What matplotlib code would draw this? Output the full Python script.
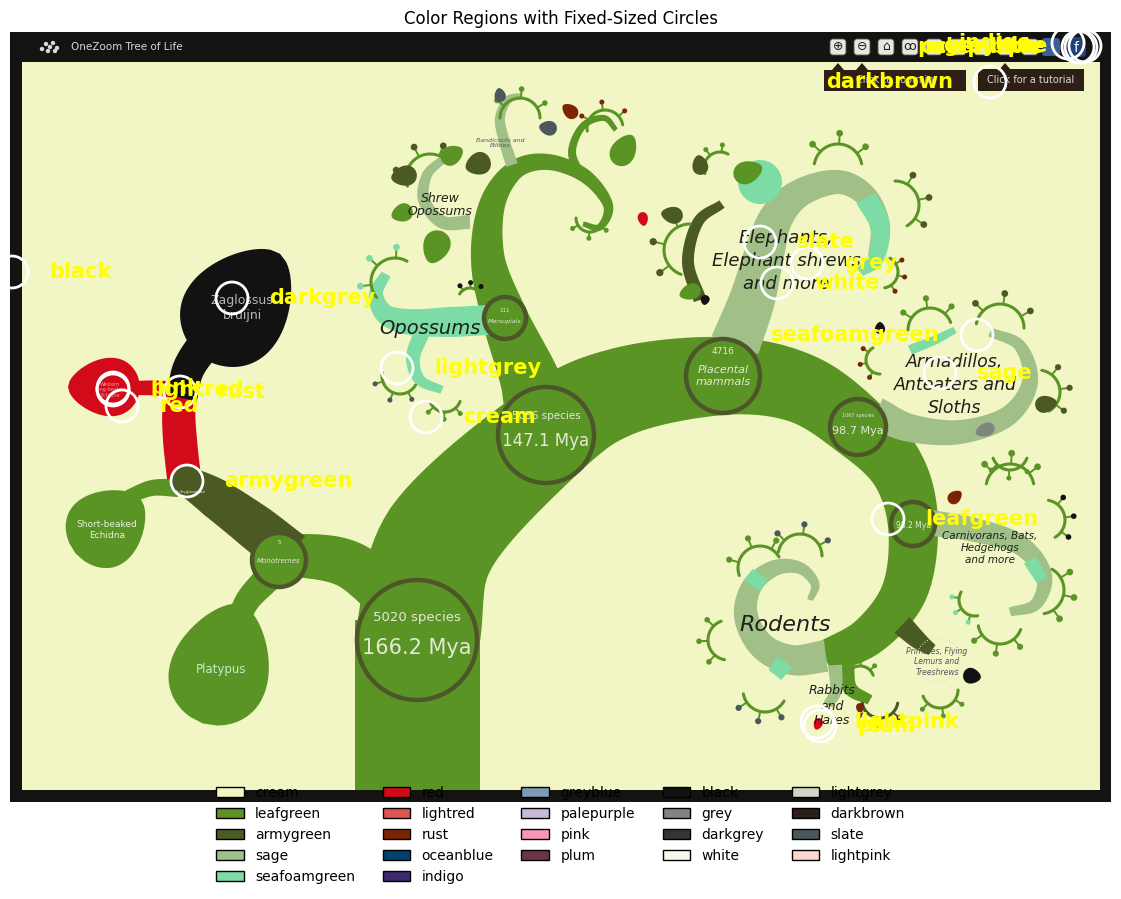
import numpy as np
import matplotlib
matplotlib.use('Agg')
import matplotlib.pyplot as plt
from matplotlib.patches import Rectangle, Circle, Polygon, Patch, FancyBboxPatch

# ---------------- legend colours ----------------
color_names = ['cream', 'leafgreen', 'armygreen', 'sage', 'seafoamgreen',
               'red', 'lightred', 'rust', 'oceanblue', 'indigo',
               'greyblue', 'palepurple', 'pink', 'plum',
               'black', 'grey', 'darkgrey', 'white',
               'lightgrey', 'darkbrown', 'slate', 'lightpink']
color_hex = ['#f3f6c4', '#5b9325', '#4c5a26', '#a0c08a', '#7fdca8',
             '#d2091a', '#e05454', '#7b2504', '#01436e', '#3d2a6d',
             '#7b9bb6', '#c9b8d6', '#fa96ba', '#6b3546',
             '#121311', '#818580', '#353632', '#f4fbec',
             '#d2d6c8', '#2e1f16', '#4a585e', '#fdd8d0']

# ---------------- sampled circles (screen pixel positions) ----------------
circle_labels = ['black', 'darkgrey', 'pink', 'lightred', 'red', 'rust', 'armygreen',
                 'lightgrey', 'cream', 'slate', 'grey', 'white', 'seafoamgreen', 'sage',
                 'leafgreen', 'plum', 'lightpink', 'darkbrown',
                 'indigo', 'oceanblue', 'palepurple', 'greyblue']
circle_x = [12, 232, 113, 113, 122, 180, 187,
            397, 426, 760, 807, 777, 977, 940,
            888, 820, 817, 990,
            1068, 1078, 1081, 1085]
circle_y = [272, 298, 388, 390, 406, 392, 481,
            368, 417, 242, 263, 283, 335, 373,
            519, 726, 722, 82,
            43, 47, 47, 46]

DARK = '#131411'
CREAM = '#f2f6c4'
LEAF = '#5a9424'
ARMY = '#4b5a23'
SAGE = '#a0c088'
SEAFOAM = '#7ddba5'
RED = '#d20a19'
RUST = '#7b2504'
SLATE = '#4a585e'
BLACK = '#111211'
NODE_EDGE = '#4d5628'

fig = plt.figure(figsize=(11.21, 8.99), dpi=100)
ax = fig.add_axes([10 / 1121, 97 / 899, 1101 / 1121, 770 / 899])
ax.set_xlim(10, 1111)
ax.set_ylim(802, 32)
ax.axis('off')
ax.set_title('Color Regions with Fixed-Sized Circles', fontsize=12)


def smooth(pts, n=16):
    p = np.asarray(pts, float)
    p = np.vstack([2 * p[0] - p[1], p, 2 * p[-1] - p[-2]])
    t = np.linspace(0, 1, n, endpoint=False)[:, None]
    seg = []
    for i in range(1, len(p) - 2):
        p0, p1, p2, p3 = p[i - 1], p[i], p[i + 1], p[i + 2]
        seg.append(0.5 * (2 * p1 + (p2 - p0) * t + (2 * p0 - 5 * p1 + 4 * p2 - p3) * t ** 2
                          + (3 * p1 - p0 - 3 * p2 + p3) * t ** 3))
    seg.append(p[-2][None])
    return np.vstack(seg)


def ribbon(pts, widths, color, z=2):
    c = smooth(pts)
    w = np.interp(np.linspace(0, 1, len(c)), np.linspace(0, 1, len(widths)), widths) / 2
    d = np.gradient(c, axis=0)
    d /= np.hypot(d[:, 0], d[:, 1])[:, None]
    nrm = np.column_stack([-d[:, 1], d[:, 0]])
    poly = np.vstack([c + nrm * w[:, None], (c - nrm * w[:, None])[::-1]])
    ax.add_patch(Polygon(poly, closed=True, fc=color, ec='none', zorder=z))


def leaf(x, y, L, W, ang, color, z=3):
    s = np.linspace(-1, 1, 50)
    hw = W / 2 * (1 - s ** 2) ** 0.55 * (1.1 - 0.25 * s)
    px = np.concatenate([s * L / 2, (s * L / 2)[::-1]])
    py = np.concatenate([hw, -hw[::-1]])
    a = np.radians(ang)
    rx = x + px * np.cos(a) - py * np.sin(a)
    ry = y - (px * np.sin(a) + py * np.cos(a))
    ax.add_patch(Polygon(np.column_stack([rx, ry]), closed=True, fc=color, ec='none', zorder=z))


def twig(x, y, r, a0, a1, col=LEAF, tip=LEAF, z=2.5):
    a = np.radians(np.linspace(a0, a1, 30))
    xs = x + r * np.cos(a)
    ys = y - r * np.sin(a)
    ax.plot(xs, ys, color=col, lw=2.2, solid_capstyle='round', zorder=z)
    for k in (5, 14, 23):
        x1 = xs[k] + 0.45 * r * np.cos(a[k])
        y1 = ys[k] - 0.45 * r * np.sin(a[k])
        ax.plot([xs[k], x1], [ys[k], y1], color=col, lw=1.4, zorder=z)
        ax.add_patch(Circle((x1, y1), max(2.5, r * 0.14), fc=tip, ec='none', zorder=z))


def node(x, y, r, z=4):
    ax.add_patch(Circle((x, y), r, fc=LEAF, ec=NODE_EDGE, lw=3.2, zorder=z))


# ---------------- screenshot frame ----------------
ax.add_patch(Rectangle((10, 32), 1101, 770, fc=DARK, ec='none', zorder=0))
ax.add_patch(Rectangle((22, 62), 1078, 728, fc=CREAM, ec='none', zorder=0.5))

# header
ax.text(71, 47, 'OneZoom Tree of Life', color='#d8d8d8', fontsize=7.5, va='center', zorder=1)
for dx, dy in [(-8, 2), (-4, -3), (0, 0), (3, -4), (7, 1), (-2, 4), (5, 4)]:
    ax.add_patch(Circle((50 + dx, 47 + dy), 2.2, fc='#d8d8d8', ec='none', zorder=1))
icons = ['⊕', '⊖', '⌂', 'ꝏ', '', '', '', '', '']
for i, g in enumerate(icons):
    xi = 838 + 24 * i
    ax.add_patch(FancyBboxPatch((xi - 8, 39), 16, 16, boxstyle='round,pad=0,rounding_size=3',
                                fc='#e6e8e0', ec='#555555', lw=0.6, zorder=1))
    ax.text(xi, 47, g, fontsize=9, ha='center', va='center', color='#222222', zorder=1.1)
ax.add_patch(FancyBboxPatch((1042, 38), 18, 18, boxstyle='round,pad=0,rounding_size=3',
                            fc='#3b5d9a', ec='none', zorder=1))
ax.add_patch(FancyBboxPatch((1066, 37), 20, 20, boxstyle='round,pad=0,rounding_size=4',
                            fc='#21417c', ec='none', zorder=1))
ax.text(1076, 48, 'f', color='white', fontsize=10, ha='center', va='center', zorder=1.1)
ax.add_patch(Rectangle((824, 70), 142, 21, fc='#2e1f16', ec='none', zorder=1))
ax.add_patch(Rectangle((978, 69), 106, 22, fc='#2e1f16', ec='none', zorder=1))
for tx in (838, 862, 1005):
    ax.add_patch(Polygon([[tx - 6, 70], [tx + 6, 70], [tx, 63]], fc='#2e1f16', ec='none', zorder=1))
ax.text(895, 80, 'Click to zoom in', color='#cfcfcf', fontsize=7, ha='center', va='center', zorder=1.1)
ax.text(1031, 80, 'Click for a tutorial', color='#dcdcdc', fontsize=7, ha='center', va='center', zorder=1.1)

# ---------------- tree ----------------
# trunk and main spiral
ax.add_patch(Rectangle((355, 620), 125, 170, fc=LEAF, ec='none', zorder=2))
ribbon([(417, 640), (440, 540), (546, 435), (620, 392), (723, 376), (800, 388), (858, 427),
        (898, 470), (913, 525), (905, 590), (870, 635), (825, 658)],
       [125, 118, 100, 88, 78, 70, 64, 56, 50, 46, 40, 34], LEAF)
# upward branch to the top spiral
ribbon([(546, 435), (530, 380), (505, 318), (488, 260), (492, 205), (515, 170), (548, 162),
        (585, 176), (608, 205), (600, 227), (583, 224)],
       [80, 60, 46, 34, 26, 19, 16, 14, 10, 7, 5], LEAF)
# monotremes side
ribbon([(395, 600), (350, 565), (305, 556), (279, 560)], [52, 48, 44, 40], LEAF)
ribbon([(268, 578), (248, 600), (236, 625)], [28, 25, 22], LEAF)
leaf(222, 664, 125, 88, 72, LEAF)
ribbon([(290, 555), (255, 527), (215, 498), (187, 481)], [48, 46, 40, 30], ARMY)
ribbon([(178, 488), (152, 488), (128, 497)], [18, 16, 14], LEAF)
leaf(108, 526, 85, 68, 40, LEAF)
ribbon([(184, 478), (180, 440), (179, 410), (184, 388)], [34, 34, 33, 30], RED)
ribbon([(178, 390), (155, 388), (132, 388)], [16, 15, 14], RED)
leaf(104, 387, 72, 52, 180, RED)
ribbon([(182, 398), (188, 370), (203, 347), (222, 330)], [30, 32, 34, 36], BLACK)
leaf(240, 305, 130, 92, 52, BLACK)

# marsupials region
ribbon([(488, 320), (450, 322), (410, 322), (385, 314), (376, 294), (386, 274)],
       [30, 30, 26, 20, 14, 10], SEAFOAM)
ribbon([(422, 332), (413, 358), (420, 380), (442, 390)], [16, 14, 11, 8], SEAFOAM)
ribbon([(470, 222), (442, 222), (424, 200), (427, 175), (442, 160)], [14, 13, 12, 10, 8], SAGE)
ribbon([(512, 165), (504, 140), (500, 118), (508, 100), (522, 96)], [12, 11, 10, 8, 6], SAGE)
ribbon([(582, 178), (572, 152), (583, 126), (604, 118), (616, 130)], [9, 8, 7, 6, 5], LEAF)
leaf(624, 150, 34, 22, 60, LEAF)
leaf(478, 164, 26, 20, 200, ARMY)
leaf(436, 247, 34, 24, 250, LEAF)
leaf(404, 176, 26, 18, 190, ARMY)
leaf(452, 155, 24, 17, 30, LEAF)
leaf(402, 213, 22, 16, 200, LEAF)
leaf(570, 111, 18, 12, 140, RUST)
leaf(548, 128, 18, 13, 170, SLATE)
leaf(500, 95, 14, 10, 100, SLATE)
leaf(643, 219, 14, 9, 280, RED)
for tw in [(430, 178, 24, 40, 200, LEAF, ARMY), (520, 118, 20, 0, 180, LEAF, LEAF),
           (605, 128, 18, 10, 190, LEAF, RUST), (590, 218, 14, 180, 360, LEAF, LEAF),
           (395, 282, 24, 60, 220, LEAF, SEAFOAM), (400, 376, 18, 170, 330, LEAF, SLATE),
           (445, 396, 16, 200, 340, LEAF, LEAF), (470, 300, 12, 30, 150, LEAF, BLACK)]:
    twig(*tw)

# elephants region
ribbon([(735, 345), (752, 300), (764, 255), (776, 218), (800, 193), (838, 182), (866, 196),
        (880, 226), (876, 258)], [50, 46, 40, 34, 28, 24, 22, 20, 16], SAGE)
ribbon([(866, 198), (880, 226), (876, 258), (860, 272)], [22, 20, 16, 10], SEAFOAM, z=2.1)
ax.add_patch(Circle((760, 182), 22, fc=SEAFOAM, ec='none', zorder=2))
leaf(748, 172, 30, 20, 20, LEAF)
ribbon([(700, 300), (688, 262), (698, 222), (722, 204)], [13, 12, 11, 9], ARMY)
leaf(672, 215, 22, 15, 170, ARMY)
leaf(700, 165, 20, 14, 100, ARMY)
leaf(690, 292, 22, 14, 200, LEAF)
leaf(705, 300, 10, 8, 260, BLACK)
for tw in [(690, 250, 26, 90, 250, LEAF, ARMY), (838, 168, 24, 10, 170, LEAF, LEAF),
           (895, 205, 24, -60, 90, LEAF, ARMY), (882, 272, 16, -80, 60, LEAF, RUST),
           (720, 168, 16, 60, 200, LEAF, LEAF)]:
    twig(*tw)

# armadillos region
ribbon([(876, 413), (910, 428), (960, 432), (1008, 416), (1030, 382), (1020, 346), (990, 332)],
       [32, 28, 24, 20, 16, 12, 9], SAGE)
ribbon([(910, 350), (935, 340), (955, 330)], [10, 9, 7], SEAFOAM, z=2.1)
leaf(1046, 404, 22, 15, 10, ARMY)
leaf(985, 430, 20, 12, 200, '#818580')
leaf(880, 328, 12, 9, 90, BLACK)
for tw in [(930, 330, 22, 20, 180, LEAF, LEAF), (1000, 328, 24, 0, 170, LEAF, ARMY),
           (1038, 392, 22, -60, 80, LEAF, ARMY), (1010, 452, 18, 200, 340, LEAF, LEAF),
           (880, 360, 14, 120, 270, LEAF, RUST)]:
    twig(*tw)

# carnivorans region
ribbon([(925, 522), (975, 530), (1020, 545), (1044, 575), (1036, 604), (1010, 612)],
       [26, 24, 20, 16, 12, 9], SAGE)
ribbon([(1030, 560), (1042, 580)], [14, 12], SEAFOAM, z=2.1)
leaf(955, 497, 16, 11, 40, RUST)
for tw in [(1010, 488, 24, 10, 170, LEAF, LEAF), (1045, 520, 20, -60, 80, LEAF, BLACK),
           (1040, 590, 24, -80, 60, LEAF, LEAF), (1000, 622, 22, 190, 340, LEAF, LEAF),
           (975, 600, 16, 150, 280, LEAF, SEAFOAM)]:
    twig(*tw)

# primates, rodents, rabbits
ribbon([(902, 625), (918, 640), (932, 650)], [22, 18, 12], ARMY)
ax.add_patch(Circle((938, 660), 22, fc='none', ec='#dcdcd0', lw=0.8, ls=':', zorder=2))
leaf(972, 676, 18, 14, 350, BLACK)
ribbon([(826, 656), (792, 660), (762, 646), (746, 616), (752, 586), (775, 568), (800, 568),
        (815, 584), (810, 600)], [32, 30, 27, 24, 20, 16, 12, 9, 6], SAGE)
ribbon([(752, 586), (760, 574)], [20, 18], SEAFOAM, z=2.1)
ribbon([(785, 662), (775, 675)], [18, 16], SEAFOAM, z=2.1)
ribbon([(845, 660), (850, 688), (870, 700)], [18, 14, 10], LEAF)
ribbon([(835, 665), (836, 690), (828, 705)], [14, 12, 10], SAGE, z=2.05)
leaf(818, 724, 12, 8, 250, RED)
leaf(860, 708, 10, 7, 270, RUST)
for tw in [(760, 568, 22, 30, 200, LEAF, LEAF), (800, 556, 22, 0, 170, LEAF, SLATE),
           (728, 640, 20, 110, 260, LEAF, LEAF), (765, 690, 22, 190, 330, LEAF, SLATE),
           (880, 700, 18, 190, 350, ARMY, RUST), (940, 690, 18, 200, 360, LEAF, LEAF),
           (860, 680, 14, 20, 160, LEAF, LEAF)]:
    twig(*tw)

# nodes
node(417, 640, 60)
node(546, 435, 48)
node(723, 376, 37)
node(858, 427, 28)
node(913, 524, 22)
node(505, 318, 21)
node(279, 560, 27)
ax.add_patch(Circle((187, 481), 14, fc=ARMY, ec=NODE_EDGE, lw=2, zorder=4))

NT = '#e4e9d6'
ax.text(417, 617, '5020 species', fontsize=9.5, color=NT, ha='center', va='center', zorder=5)
ax.text(417, 648, '166.2 Mya', fontsize=15, color=NT, ha='center', va='center', zorder=5)
ax.text(546, 416, '5056 species', fontsize=7.5, color=NT, ha='center', va='center', zorder=5)
ax.text(546, 441, '147.1 Mya', fontsize=12, color=NT, ha='center', va='center', zorder=5)
ax.text(723, 352, '4716', fontsize=6.5, color=NT, ha='center', va='center', zorder=5)
ax.text(723, 376, 'Placental\nmammals', fontsize=8, color=NT, style='italic', ha='center',
        va='center', zorder=5)
ax.text(858, 416, '1067 species', fontsize=3.5, color=NT, ha='center', va='center', zorder=5)
ax.text(858, 431, '98.7 Mya', fontsize=8, color=NT, ha='center', va='center', zorder=5)
ax.text(913, 526, '98.2 Mya', fontsize=5.5, color=NT, ha='center', va='center', zorder=5)
ax.text(505, 310, '111', fontsize=4, color=NT, ha='center', va='center', zorder=5)
ax.text(505, 322, 'Marsupials', fontsize=4.5, color=NT, style='italic', ha='center',
        va='center', zorder=5)
ax.text(279, 543, '5', fontsize=4, color=NT, ha='center', va='center', zorder=5)
ax.text(279, 561, 'Monotremes', fontsize=5, color=NT, style='italic', ha='center',
        va='center', zorder=5)
ax.text(190, 492, 'Tachyglossidae', fontsize=3, color=NT, ha='center', va='center', zorder=5)

# clade names
LT = '#1d1f1a'
ax.text(242, 308, 'Zaglossus\nbruijni', fontsize=9, color='#b5b5b5', ha='center', va='center', zorder=5)
ax.text(107, 530, 'Short-beaked\nEchidna', fontsize=6.5, color='#e6f2dc', ha='center', va='center', zorder=5)
ax.text(221, 669, 'Platypus', fontsize=8.5, color='#b8f2cc', ha='center', va='center', zorder=5)
ax.text(110, 390, 'Western\nLong-beaked\nEchidna', fontsize=3.5, color='#f0a0a0', ha='center',
        va='center', zorder=5)
ax.text(430, 328, 'Opossums', fontsize=14, color=LT, style='italic', ha='center', va='center', zorder=5)
ax.text(440, 205, 'Shrew\nOpossums', fontsize=9, color=LT, style='italic', ha='center',
        va='center', linespacing=1.1, zorder=5)
ax.text(500, 143, 'Bandicoots and\nBilbies', fontsize=4.5, color='#555a60', style='italic',
        ha='center', va='center', zorder=5)
ax.text(786, 261, 'Elephants,\nElephant shrews\nand more', fontsize=13, color=LT, style='italic',
        ha='center', va='center', linespacing=1.35, zorder=5)
ax.text(955, 385, 'Armadillos,\nAnteaters and\nSloths', fontsize=12.5, color=LT, style='italic',
        ha='center', va='center', linespacing=1.35, zorder=5)
ax.text(990, 548, 'Carnivorans, Bats,\nHedgehogs\nand more', fontsize=7.5, color=LT,
        style='italic', ha='center', va='center', linespacing=1.3, zorder=5)
ax.text(785, 625, 'Rodents', fontsize=16, color=LT, style='italic', ha='center', va='center', zorder=5)
ax.text(832, 706, 'Rabbits\nand\nHares', fontsize=9, color=LT, style='italic', ha='center',
        va='center', linespacing=1.2, zorder=5)
ax.text(937, 662, 'Primates, Flying\nLemurs and\nTreeshrews', fontsize=5.5, color='#50555a',
        style='italic', ha='center', va='center', zorder=5)

# ---------------- sampled circles and labels ----------------
for name, x, y in zip(circle_labels, circle_x, circle_y):
    ax.add_patch(Circle((x, y), 16, fc='none', ec='white', lw=2, zorder=10, clip_on=False))
    if x > 950:
        ax.text(x - 37, y, name, color='yellow', fontsize=15, fontweight='bold',
                ha='right', va='center', zorder=11)
    else:
        ax.text(x + 37, y, name, color='yellow', fontsize=15, fontweight='bold',
                ha='left', va='center', zorder=11)

# ---------------- legend ----------------
handles = [Patch(facecolor=c, edgecolor='black', label=n) for n, c in zip(color_names, color_hex)]
fig.legend(handles=handles, loc='upper center', bbox_to_anchor=(0.5, 0.1395), ncol=5,
           frameon=False, fontsize=10)

fig.savefig('out.png', dpi=100)
